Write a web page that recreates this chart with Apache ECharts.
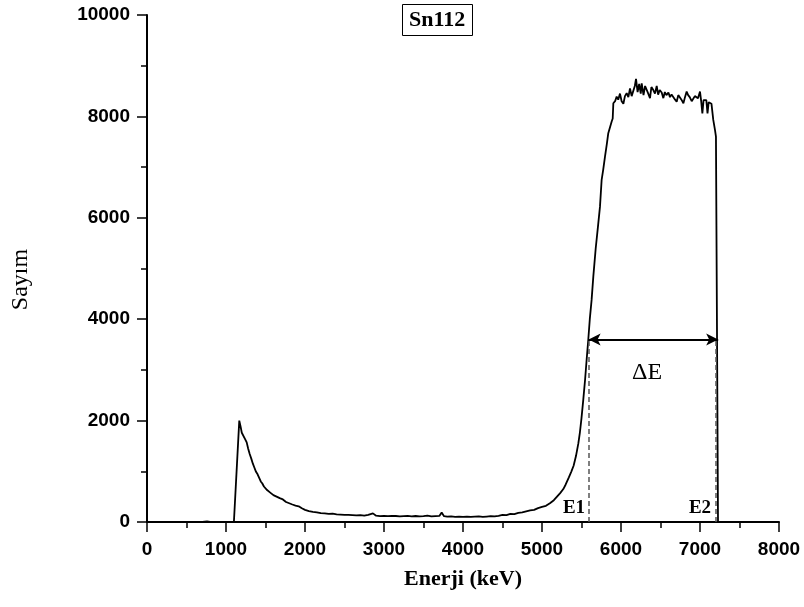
<!DOCTYPE html>
<html>
<head>
<meta charset="utf-8">
<script src="https://cdn.jsdelivr.net/npm/echarts@6/dist/echarts.min.js"></script>
<style>
  html, body { margin: 0; padding: 0; background: #fff; }
  #chart { width: 804px; height: 607px; }
</style>
</head>
<body>
<div id="chart"></div>
<script>
// Sn112 energy spectrum: energy (keV) and counts per channel
const energy = [
  620, 700, 760, 800, 900, 1000, 1100, 1122, 1168,
  1185, 1200, 1220, 1240, 1262, 1280, 1300, 1320, 1340, 1360, 1380, 1400,
  1420, 1440, 1460, 1480, 1500, 1520, 1540, 1560, 1580, 1600, 1620, 1640,
  1660, 1680, 1700, 1720, 1740, 1760, 1780, 1800, 1820, 1840, 1860, 1880,
  1900, 1920, 1940, 1960, 1980, 2000, 2050, 2100, 2150, 2200, 2250, 2300,
  2350, 2400, 2450, 2500, 2550, 2600, 2650, 2700, 2750, 2800, 2860, 2900,
  2950, 3000, 3050, 3100, 3150, 3200, 3250, 3300, 3350, 3400, 3450, 3500,
  3550, 3600, 3650, 3700, 3730, 3760, 3800, 3850, 3900, 3950, 4000, 4050,
  4100, 4150, 4200, 4250, 4300, 4350, 4400, 4450, 4500, 4550, 4600, 4650,
  4700, 4750, 4800, 4850, 4900, 4950, 5000, 5050, 5100, 5150, 5190, 5230,
  5270, 5300, 5340, 5370, 5400, 5430, 5460, 5480, 5500, 5523, 5545, 5565,
  5585, 5605, 5628, 5650, 5680, 5710, 5734, 5755, 5775, 5797, 5820, 5839,
  5860, 5882, 5895, 5903, 5925, 5945, 5965, 5987, 6008, 6030, 6050, 6072,
  6093, 6114, 6135, 6156, 6175, 6190, 6210, 6230, 6250, 6262, 6285, 6305,
  6325, 6345, 6367, 6385, 6409, 6430, 6452, 6470, 6490, 6515, 6536, 6555,
  6575, 6600, 6620, 6640, 6665, 6685, 6705, 6725, 6745, 6765, 6790, 6810,
  6831, 6850, 6870, 6895, 6915, 6935, 6955, 6975, 7000, 7015, 7030, 7045,
  7063, 7080, 7095, 7110, 7127, 7145, 7168, 7190, 7202, 7228, 7260, 8000
];
const counts = [
  0, 0, 10, 0, 0, 0, 0, 0, 2000,
  1880, 1760, 1730, 1640, 1570, 1450, 1340, 1250, 1150, 1070, 990, 940,
  870, 800, 760, 700, 670, 630, 600, 580, 560, 530, 510, 500,
  480, 470, 440, 445, 420, 395, 380, 370, 355, 345, 330, 325,
  330, 310, 290, 270, 255, 240, 215, 200, 190, 175, 170, 160,
  165, 150, 145, 140, 140, 135, 130, 135, 125, 140, 170, 125,
  115, 120, 115, 120, 118, 110, 115, 120, 112, 118, 110, 115,
  125, 110, 115, 120, 185, 115, 105, 110, 100, 105, 100, 108,
  100, 105, 110, 100, 108, 115, 110, 120, 140, 135, 160, 155,
  180, 190, 210, 230, 240, 275, 300, 320, 370, 430, 500, 570,
  650, 740, 880, 990, 1110, 1300, 1550, 1770, 2050, 2420, 2800, 3200,
  3580, 4000, 4380, 4850, 5400, 5850, 6220, 6750, 6950, 7200, 7450, 7670,
  7700, 7900, 7960, 8260, 8300, 8390, 8330, 8450, 8300, 8250, 8400, 8460,
  8380, 8550, 8400, 8420, 8600, 8740, 8480, 8640, 8450, 8650, 8420, 8600,
  8580, 8450, 8360, 8580, 8520, 8450, 8600, 8430, 8520, 8470, 8360, 8480,
  8420, 8470, 8380, 8430, 8400, 8330, 8290, 8420, 8400, 8330, 8260, 8380,
  8490, 8420, 8380, 8300, 8290, 8400, 8420, 8360, 8490, 8300, 8060, 8320,
  8290, 8320, 8060, 8280, 8290, 8250, 7930, 7730, 7600, 0, 0, 0
];

// x-axis and y-axis tick values
const xTicks = [0, 1000, 2000, 3000, 4000, 5000, 6000, 7000, 8000];
const yTicks = [0, 2000, 4000, 6000, 8000, 10000];

// energy-loss window markers
const edgeNames = ['E1', 'E2'];
const edgeEnergy = [5590, 7205];
const arrowEnds = [5590, 7230];
const arrowLevel = 3600;
const edgeLabelPos = [[5405, 270], [7000, 270]];
const deltaLabelPos = [6329, 2950];

const spectrum = energy.map((e, i) => [e, counts[i]]);
const serif = 'Liberation Serif';
const sans = 'Liberation Sans';

const chart = echarts.init(document.getElementById('chart'), null, { renderer: 'canvas' });

chart.setOption({
  animation: false,
  backgroundColor: '#fff',
  title: {
    text: 'Sn112',
    left: 402,
    top: 4,
    padding: [5, 7, 5, 7],
    borderColor: '#000',
    borderWidth: 1,
    textStyle: { fontFamily: serif, fontWeight: 'bold', fontSize: 22, color: '#000' }
  },
  grid: { left: 147, right: 25, top: 15, bottom: 85, containLabel: false },
  xAxis: {
    type: 'value',
    min: xTicks[0],
    max: xTicks[xTicks.length - 1],
    interval: xTicks[1] - xTicks[0],
    name: 'Enerji (keV)',
    nameLocation: 'middle',
    nameGap: 46,
    nameTextStyle: { fontFamily: serif, fontWeight: 'bold', fontSize: 22, color: '#000' },
    axisLine: { show: true, onZero: false, lineStyle: { color: '#000', width: 2 } },
    axisTick: { show: true, inside: false, length: 10, lineStyle: { color: '#000', width: 1.5 } },
    minorTick: { show: true, splitNumber: 2, length: 6, lineStyle: { color: '#000', width: 1.5 } },
    axisLabel: {
      margin: 18, fontFamily: sans, fontWeight: 'bold', fontSize: 19, color: '#000',
      formatter: v => String(v)
    },
    splitLine: { show: false }
  },
  yAxis: {
    type: 'value',
    min: yTicks[0],
    max: yTicks[yTicks.length - 1],
    interval: yTicks[1] - yTicks[0],
    name: 'Sayım',
    nameLocation: 'middle',
    nameRotate: 90,
    nameGap: 114,
    nameTextStyle: { fontFamily: serif, fontSize: 24, color: '#000', padding: [0, 22, 0, 0] },
    axisLine: { show: true, lineStyle: { color: '#000', width: 2 } },
    axisTick: { show: true, inside: false, length: 10, lineStyle: { color: '#000', width: 1.5 } },
    minorTick: { show: true, splitNumber: 2, length: 6, lineStyle: { color: '#000', width: 1.5 } },
    axisLabel: {
      margin: 17, fontFamily: sans, fontWeight: 'bold', fontSize: 19, color: '#000',
      formatter: v => String(v)
    },
    splitLine: { show: false }
  },
  series: [
    {
      type: 'line',
      data: spectrum,
      showSymbol: false,
      symbol: 'none',
      lineStyle: { color: '#000', width: 1.8 },
      z: 3
    },
    {
      // dashed edges and the labels
      type: 'line',
      data: [],
      silent: true,
      markLine: {
        silent: true,
        animation: false,
        label: { show: false },
        data: [
          [
            { coord: [edgeEnergy[0], 0], symbol: 'none' },
            { coord: [edgeEnergy[0], arrowLevel], symbol: 'none' }
          ],
          [
            { coord: [edgeEnergy[1], 0], symbol: 'none' },
            { coord: [edgeEnergy[1], arrowLevel], symbol: 'none' }
          ]
        ],
        lineStyle: { color: '#555', type: [5, 3], width: 1.5 }
      },
      markPoint: {
        silent: true,
        symbolSize: 0,
        data: [
          { coord: edgeLabelPos[0], label: { formatter: edgeNames[0] } },
          { coord: edgeLabelPos[1], label: { formatter: edgeNames[1] } },
          { coord: deltaLabelPos, label: { formatter: 'ΔE', fontWeight: 'normal', fontSize: 24 } }
        ],
        label: {
          show: true,
          position: 'inside',
          fontFamily: serif,
          fontWeight: 'bold',
          fontSize: 19,
          color: '#000'
        }
      }
    },
    {
      // double arrow spanning the energy window
      type: 'line',
      data: [],
      silent: true,
      markLine: {
        silent: true,
        animation: false,
        label: { show: false },
        symbol: ['arrow', 'arrow'],
        symbolSize: [9, 12],
        data: [
          [
            { coord: [arrowEnds[0], arrowLevel] },
            { coord: [arrowEnds[1], arrowLevel] }
          ]
        ],
        lineStyle: { color: '#000', type: 'solid', width: 2 }
      }
    }
  ]
});
</script>
</body>
</html>
